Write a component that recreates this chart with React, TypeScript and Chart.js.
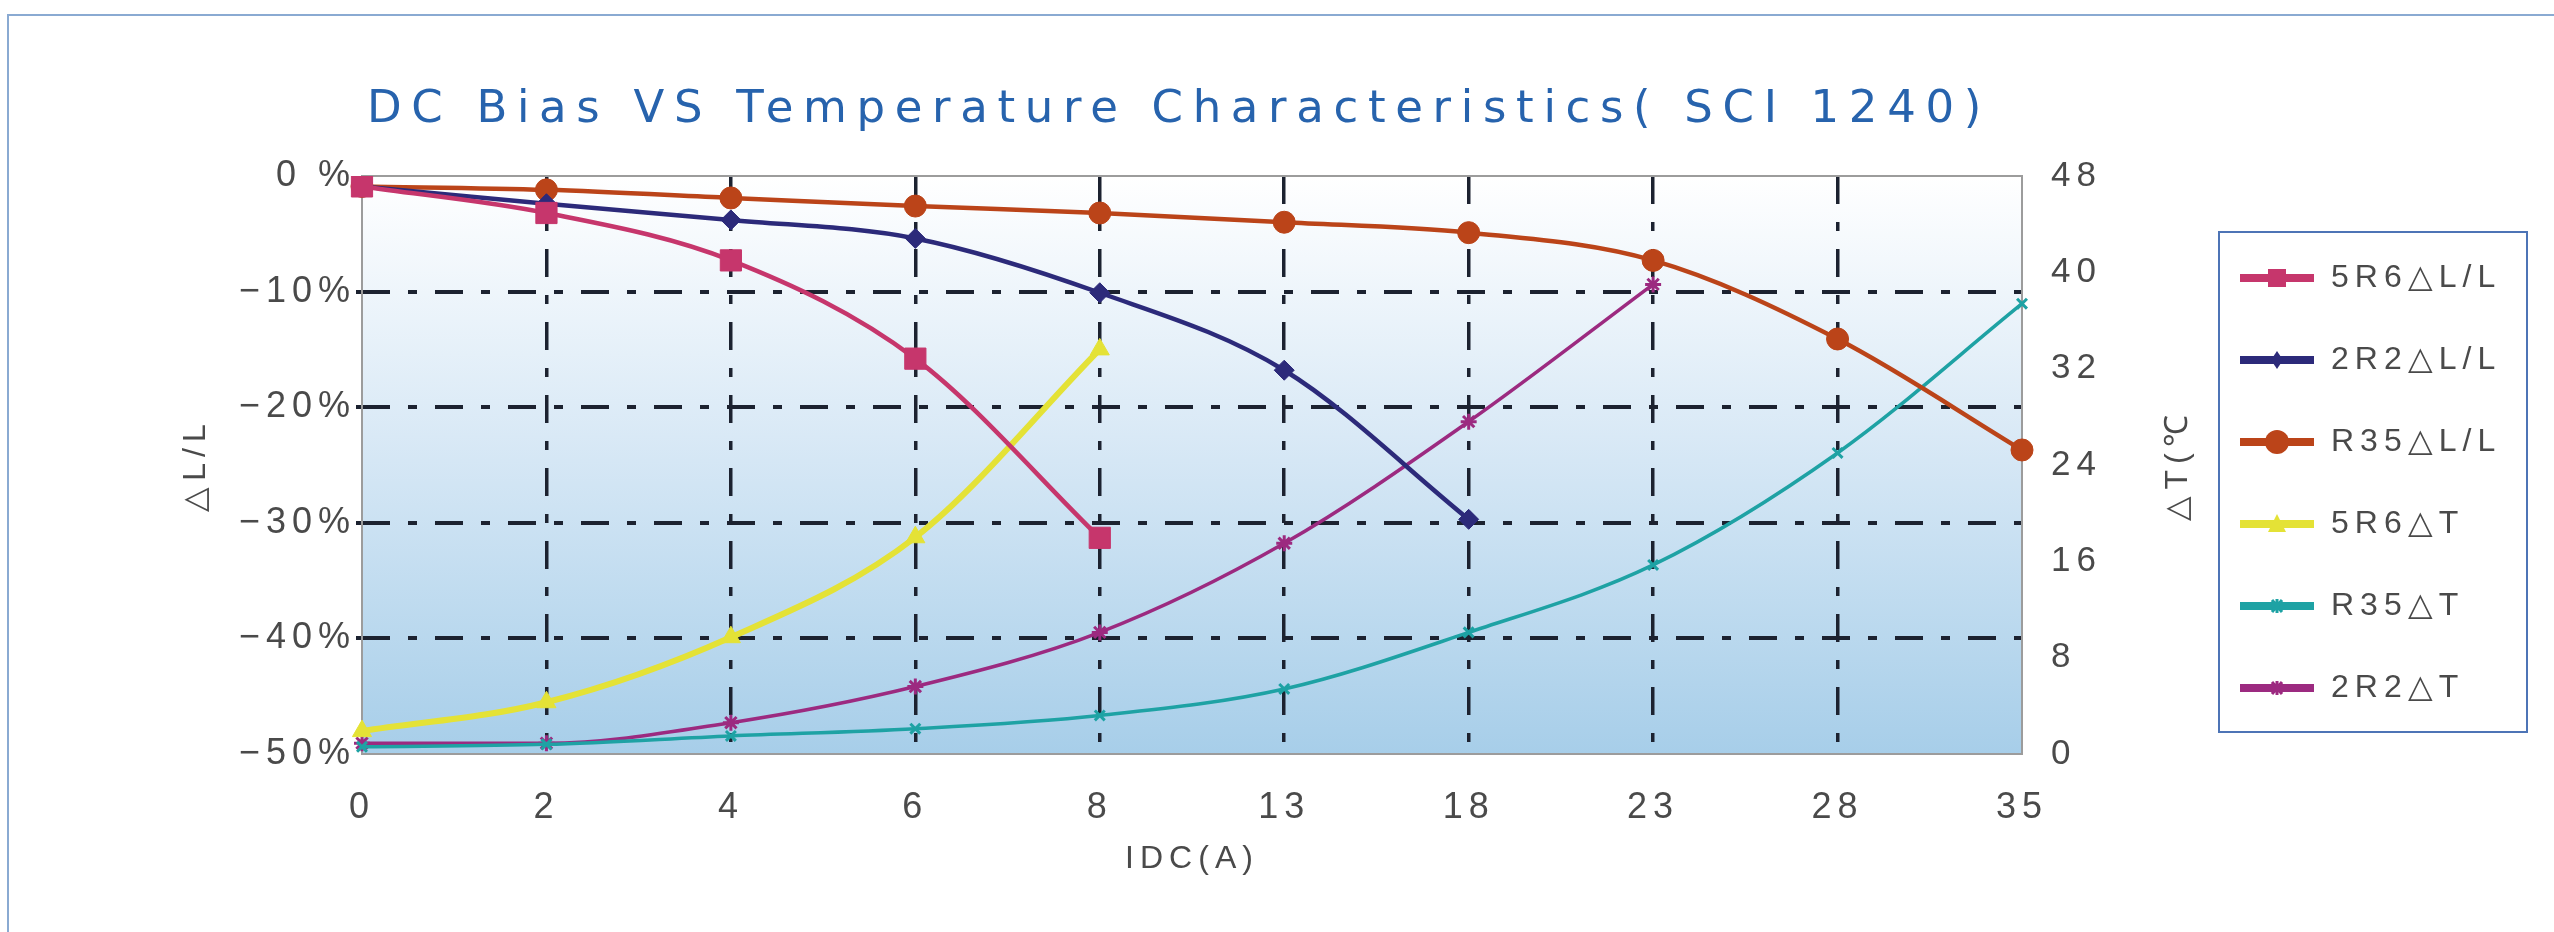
import React, { useEffect, useRef } from 'react';
import { Chart, registerables } from 'chart.js';

Chart.register(...registerables);

const FONT = '"Liberation Sans", Arial, sans-serif';
const TITLE_FONT = '"DejaVu Sans", sans-serif';
const TEXT = '#4a4a4a';
const GRID = '#1c2230';
const DASH = [28, 18, 9, 18];

const chartTitle = 'DC Bias VS Temperature Characteristics( SCI 1240)';

// IDC (A) categories
const currents = ['0', '2', '4', '6', '8', '13', '18', '23', '28', '35'];

// ΔL/L in %
const l5R6 = [-0.9, -3.2, -7.3, -15.8, -31.3];
const l2R2 = [-0.9, -2.4, -3.8, -5.4, -10.1, -16.8, -29.7];
const lR35 = [-0.9, -1.2, -1.9, -2.6, -3.2, -4.0, -4.9, -7.3, -14.1, -23.7];

// ΔT in °C
const t5R6 = [1.9, 4.3, 9.7, 18.0, 33.6];
const tR35 = [0.6, 0.8, 1.5, 2.1, 3.2, 5.4, 10.1, 15.7, 25.0, 37.4];
const t2R2 = [0.9, 0.9, 2.6, 5.6, 10.1, 17.5, 27.6, 39.0];

// axis ranges / tick steps
const lossRange = [-50, 0, 10];
const tempRange = [0, 48, 8];

const series = [
  { label: '5R6△L/L', data: l5R6, axis: 'y', color: '#c6366c', shape: 'rect', r: 15, w: 4.5 },
  { label: '2R2△L/L', data: l2R2, axis: 'y', color: '#2c2a7a', shape: 'rectRot', r: 10, w: 4.5 },
  { label: 'R35△L/L', data: lR35, axis: 'y', color: '#bb4419', shape: 'circle', r: 11, w: 4.5 },
  { label: '5R6△T', data: t5R6, axis: 'y2', color: '#e4e236', shape: 'triangle', r: 11, w: 6 },
  { label: 'R35△T', data: tR35, axis: 'y2', color: '#1ea2a4', shape: 'crossRot', r: 7, w: 3.5 },
  { label: '2R2△T', data: t2R2, axis: 'y2', color: '#9c2a80', shape: 'star', r: 8, w: 3.5 },
];

// small line + marker picture for the legend
function legendIcon(color: string, shape: string) {
  const c = document.createElement('canvas');
  c.width = 74;
  c.height = 28;
  const g = c.getContext('2d')!;
  const cx = 37, cy = 14;
  g.strokeStyle = color;
  g.fillStyle = color;
  g.lineWidth = 8;
  g.beginPath();
  g.moveTo(0, cy);
  g.lineTo(74, cy);
  g.stroke();
  g.beginPath();
  if (shape === 'rect') {
    g.rect(cx - 9, cy - 9, 18, 18);
    g.fill();
  } else if (shape === 'rectRot') {
    g.moveTo(cx, cy - 9);
    g.lineTo(cx + 6, cy);
    g.lineTo(cx, cy + 9);
    g.lineTo(cx - 6, cy);
    g.closePath();
    g.fill();
  } else if (shape === 'circle') {
    g.arc(cx, cy, 12, 0, Math.PI * 2);
    g.fill();
  } else if (shape === 'triangle') {
    g.moveTo(cx, cy - 10);
    g.lineTo(cx + 9, cy + 8);
    g.lineTo(cx - 9, cy + 8);
    g.closePath();
    g.fill();
  } else {
    g.lineWidth = 3;
    g.moveTo(cx - 5, cy - 6);
    g.lineTo(cx + 5, cy + 6);
    g.moveTo(cx + 5, cy - 6);
    g.lineTo(cx - 5, cy + 6);
    g.moveTo(cx, cy - 7);
    g.lineTo(cx, cy + 7);
    g.stroke();
  }
  return c;
}

const hideEdge = (count: number) => (ctx: any) =>
  ctx.index === 0 || ctx.index === count - 1 ? 'rgba(0,0,0,0)' : GRID;

const decor = {
  id: 'decor',
  beforeUpdate(chart: any) {
    chart.ctx.letterSpacing = '6px';
  },
  beforeDraw(chart: any) {
    const { ctx, chartArea: a } = chart;
    ctx.letterSpacing = '6px';
    const grad = ctx.createLinearGradient(0, a.top, 0, a.bottom);
    grad.addColorStop(0, '#ffffff');
    grad.addColorStop(0.45, '#d9e9f6');
    grad.addColorStop(1, '#a7cee9');
    ctx.save();
    ctx.fillStyle = grad;
    ctx.fillRect(a.left, a.top, a.width, a.height);
    ctx.restore();
  },
  beforeDatasetsDraw(chart: any) {
    const { ctx, chartArea: a } = chart;
    ctx.save();
    ctx.strokeStyle = '#9c9c9c';
    ctx.lineWidth = 2;
    ctx.strokeRect(a.left, a.top, a.width, a.height);
    ctx.restore();
  },
  afterDraw(chart: any) {
    const { ctx, chartArea: a } = chart;

    // chart title, stretched to the width it has in the original
    ctx.save();
    ctx.letterSpacing = '0px';
    ctx.font = '45px ' + TITLE_FONT;
    const w0 = ctx.measureText(chartTitle).width;
    ctx.letterSpacing = Math.max(0, (1624 - w0) / chartTitle.length) + 'px';
    ctx.fillStyle = '#2763ad';
    ctx.textAlign = 'left';
    ctx.textBaseline = 'alphabetic';
    ctx.fillText(chartTitle, a.left + 5, 122);
    ctx.restore();

    // right axis title reads bottom to top
    const y2 = chart.scales.y2;
    ctx.save();
    ctx.translate(y2.left + 156, (a.top + a.bottom) / 2);
    ctx.rotate(-Math.PI / 2);
    ctx.font = '32px ' + FONT;
    ctx.fillStyle = TEXT;
    ctx.textAlign = 'center';
    ctx.textBaseline = 'middle';
    ctx.fillText('△T(℃', 0, 0);
    ctx.restore();

    // legend frame
    const hb = chart.legend.legendHitBoxes;
    if (hb && hb.length) {
      const first = hb[0];
      const last = hb[hb.length - 1];
      ctx.save();
      ctx.strokeStyle = '#4d74b6';
      ctx.lineWidth = 2;
      ctx.strokeRect(first.left - 20, first.top - 30, 308, last.top + last.height - first.top + 58);
      ctx.restore();
    }
  },
};

export default function App() {
  const canvasRef = useRef<HTMLCanvasElement>(null);

  useEffect(() => {
    if (!canvasRef.current) return;
    const icons = series.map(s => legendIcon(s.color, s.shape));

    // legend width from its widest label, so that nothing is clipped
    const m: any = document.createElement('canvas').getContext('2d');
    m.letterSpacing = '6px';
    m.font = '32px ' + FONT;
    const textW = Math.max(...series.map(s => m.measureText(s.label).width));
    const legendW = Math.floor(50 + 76 + 16 + textW + 10 - 2);
    const legendLeft = 2189;

    const chart = new Chart(canvasRef.current, {
      type: 'line',
      data: {
        labels: currents,
        datasets: series.map(s => ({
          label: s.label,
          data: s.data,
          yAxisID: s.axis,
          borderColor: s.color,
          backgroundColor: s.color,
          borderWidth: s.w,
          pointStyle: s.shape as any,
          pointRadius: s.r,
          pointBackgroundColor: s.color,
          pointBorderColor: s.color,
          pointBorderWidth: s.shape === 'crossRot' || s.shape === 'star' ? 3 : 1,
          cubicInterpolationMode: 'monotone' as const,
          fill: false,
        })),
      },
      options: {
        responsive: false,
        animation: false,
        layout: { padding: { top: 176, left: 150, right: 2554 - legendLeft - legendW, bottom: 54 } },
        plugins: {
          title: { display: false },
          tooltip: { enabled: false },
          legend: {
            position: 'right',
            align: 'end',
            fullSize: false,
            maxWidth: legendW,
            labels: {
              usePointStyle: true,
              pointStyleWidth: 76,
              padding: 50,
              color: TEXT,
              font: { size: 32, family: FONT },
              generateLabels: (c: any) =>
                Chart.defaults.plugins.legend.labels
                  .generateLabels(c)
                  .map((it: any) => ({ ...it, pointStyle: icons[it.datasetIndex] })),
            },
          },
        },
        scales: {
          x: {
            type: 'category',
            offset: false,
            grid: { color: hideEdge(currents.length), lineWidth: 3.5, drawTicks: false },
            border: { display: false, dash: DASH },
            ticks: {
              padding: 32,
              color: TEXT,
              autoSkip: false,
              maxRotation: 0,
              font: { size: 36, family: FONT },
            },
            title: { display: true, text: 'IDC(A)', color: TEXT, padding: 0, font: { size: 32, family: FONT } },
            afterFit: (s: any) => {
              s.height = 124;
            },
          },
          y: {
            position: 'left',
            min: lossRange[0],
            max: lossRange[1],
            grid: {
              color: hideEdge(6),
              lineWidth: 4,
              drawTicks: true,
              tickLength: 6,
              tickWidth: 4,
              tickColor: hideEdge(6),
            },
            border: { display: false, dash: DASH },
            ticks: {
              stepSize: lossRange[2],
              padding: 0,
              color: TEXT,
              font: { size: 36, family: FONT },
              callback: (v: any) => (v === 0 ? '0 %' : '−' + Math.abs(v) + '%'),
            },
            title: { display: true, text: '△L/L', color: TEXT, padding: { top: 27, bottom: 0 }, font: { size: 32, family: FONT } },
            afterFit: (s: any) => {
              s.width = 212;
            },
          },
          y2: {
            position: 'right',
            min: tempRange[0],
            max: tempRange[1],
            grid: { drawOnChartArea: false, drawTicks: false },
            border: { display: false },
            ticks: {
              stepSize: tempRange[2],
              padding: 29,
              color: TEXT,
              font: { size: 35, family: FONT },
            },
            afterFit: (s: any) => {
              s.width = 167;
            },
          },
        },
      },
      plugins: [decor],
    });

    return () => chart.destroy();
  }, []);

  return (
    <>
      <div
        style={{
          position: 'absolute',
          left: 7,
          top: 14,
          width: 2547,
          height: 918,
          boxSizing: 'border-box',
          borderTop: '2px solid #8aaad2',
          borderLeft: '2px solid #8aaad2',
        }}
      />
      <div style={{ position: 'absolute', left: 0, top: 0, width: 2554, height: 932 }}>
        <canvas ref={canvasRef} width={2554} height={932} style={{ display: 'block' }} />
      </div>
    </>
  );
}
